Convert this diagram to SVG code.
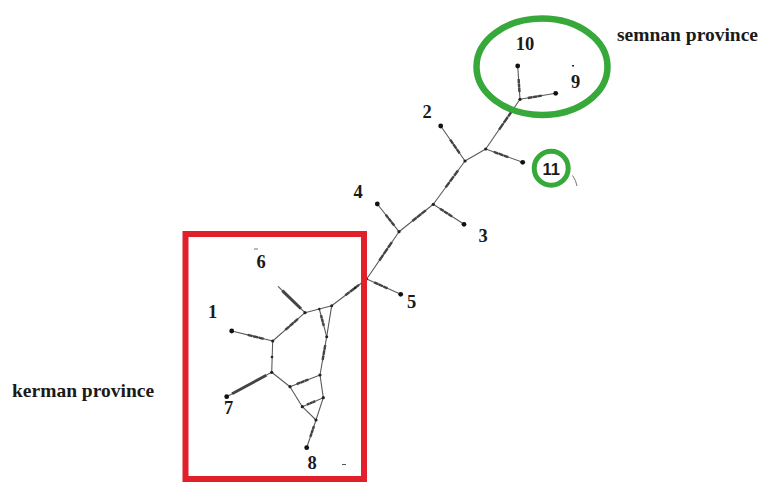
<svg xmlns="http://www.w3.org/2000/svg" width="764" height="483" viewBox="0 0 764 483">
<style>
.e{stroke:#5a5a5a;stroke-width:1.1;fill:none;stroke-linecap:round}
.h{stroke:#444;stroke-width:2.4;fill:none;stroke-dasharray:0 22 12 1.5 12 1.5 12 39.5}
.tip{fill:#111}
.jn{fill:#222}
.lb{font-family:"Liberation Serif","Times New Roman",serif;font-weight:bold;font-size:18.5px;fill:#1a1a1a;text-anchor:middle}
.prov{font-family:"Liberation Serif","Times New Roman",serif;font-weight:bold;font-size:19.5px;fill:#1a1a1a}
.grn{fill:none;stroke:#37a83a}
</style>
<rect width="764" height="483" fill="#fff"/>
<g id="connectors">
<line class="e" x1="520" y1="99.3" x2="517.7" y2="66"/><line class="h" pathLength="100" x1="520" y1="99.3" x2="517.7" y2="66"/>
<line class="e" x1="520" y1="99.3" x2="555.7" y2="93.3"/><line class="h" pathLength="100" x1="520" y1="99.3" x2="555.7" y2="93.3"/>
<line class="e" x1="520" y1="99.3" x2="485.7" y2="149"/><line class="h" pathLength="100" x1="520" y1="99.3" x2="485.7" y2="149"/>
<line class="e" x1="485.7" y1="149" x2="522.7" y2="162.3"/><line class="h" pathLength="100" x1="485.7" y1="149" x2="522.7" y2="162.3"/>
<line class="e" x1="485.7" y1="149" x2="465" y2="161"/>
<line class="e" x1="465" y1="161" x2="440.7" y2="126"/><line class="h" pathLength="100" x1="465" y1="161" x2="440.7" y2="126"/>
<line class="e" x1="465" y1="161" x2="433.3" y2="204.3"/><line class="h" pathLength="100" x1="465" y1="161" x2="433.3" y2="204.3"/>
<line class="e" x1="433.3" y1="204.3" x2="464" y2="224.3"/><line class="h" pathLength="100" x1="433.3" y1="204.3" x2="464" y2="224.3"/>
<line class="e" x1="433.3" y1="204.3" x2="399" y2="231.7"/><line class="h" pathLength="100" x1="433.3" y1="204.3" x2="399" y2="231.7"/>
<line class="e" x1="399" y1="231.7" x2="377.3" y2="204"/><line class="h" pathLength="100" x1="399" y1="231.7" x2="377.3" y2="204"/>
<line class="e" x1="399" y1="231.7" x2="366.7" y2="279"/><line class="h" pathLength="100" x1="399" y1="231.7" x2="366.7" y2="279"/>
<line class="e" x1="366.7" y1="279" x2="400.7" y2="294.3"/><line class="h" pathLength="100" x1="366.7" y1="279" x2="400.7" y2="294.3"/>
<line class="e" x1="366.7" y1="279" x2="331.7" y2="305.7"/><line class="h" pathLength="100" x1="366.7" y1="279" x2="331.7" y2="305.7"/>
<line class="e" x1="331.7" y1="305.7" x2="319.3" y2="309"/>
<line class="e" x1="319.3" y1="309" x2="305" y2="312.7"/>
<line class="e" x1="305" y1="312.7" x2="278.3" y2="286.7"/><line class="h" pathLength="100" x1="305" y1="312.7" x2="278.3" y2="286.7" style="stroke-dasharray:0 15 70 15;stroke-width:3"/>
<line class="e" x1="305" y1="312.7" x2="272.7" y2="341"/><line class="h" pathLength="100" x1="305" y1="312.7" x2="272.7" y2="341"/>
<line class="e" x1="272.7" y1="341" x2="231.7" y2="331"/><line class="h" pathLength="100" x1="272.7" y1="341" x2="231.7" y2="331"/>
<line class="e" x1="272.7" y1="341" x2="271.7" y2="372.3"/>
<line class="e" x1="271.7" y1="372.3" x2="226.7" y2="396.7"/><line class="h" pathLength="100" x1="271.7" y1="372.3" x2="226.7" y2="396.7" style="stroke-dasharray:0 12 76 12;stroke-width:2.8"/>
<line class="e" x1="271.7" y1="372.3" x2="290" y2="386.7"/>
<line class="e" x1="319.3" y1="309" x2="326.7" y2="336.7"/><line class="h" pathLength="100" x1="319.3" y1="309" x2="326.7" y2="336.7"/>
<line class="e" x1="331.7" y1="305.7" x2="326.7" y2="336.7"/>
<line class="e" x1="326.7" y1="336.7" x2="320" y2="375"/><line class="h" pathLength="100" x1="326.7" y1="336.7" x2="320" y2="375"/>
<line class="e" x1="290" y1="386.7" x2="320" y2="375"/><line class="h" pathLength="100" x1="290" y1="386.7" x2="320" y2="375"/>
<line class="e" x1="320" y1="375" x2="323.3" y2="397.7"/>
<line class="e" x1="290" y1="386.7" x2="302.3" y2="406.7"/>
<line class="e" x1="302.3" y1="406.7" x2="323.3" y2="397.7"/><line class="h" pathLength="100" x1="302.3" y1="406.7" x2="323.3" y2="397.7"/>
<line class="e" x1="323.3" y1="397.7" x2="316" y2="420"/>
<line class="e" x1="302.3" y1="406.7" x2="316" y2="420"/>
<line class="e" x1="316" y1="420" x2="306.7" y2="447.7"/><line class="h" pathLength="100" x1="316" y1="420" x2="306.7" y2="447.7"/>
</g>
<g id="junctions" class="jn">
<circle cx="520" cy="99.3" r="1.6"/><circle cx="485.7" cy="149" r="1.6"/><circle cx="465" cy="161" r="1.6"/>
<circle cx="433.3" cy="204.3" r="1.6"/><circle cx="399" cy="231.7" r="1.6"/><circle cx="366.7" cy="279" r="1.2"/>
<circle cx="331.7" cy="305.7" r="1.5"/><circle cx="319.3" cy="309" r="1.2"/><circle cx="305" cy="312.7" r="1.6"/>
<circle cx="326.7" cy="336.7" r="1.5"/><circle cx="272.7" cy="341" r="1.6"/><circle cx="272" cy="357" r="1.3"/>
<circle cx="271.7" cy="372.3" r="1.6"/><circle cx="290" cy="386.7" r="1.6"/><circle cx="320" cy="375" r="1.6"/>
<circle cx="323.3" cy="397.7" r="1.6"/><circle cx="302.3" cy="406.7" r="1.6"/><circle cx="316" cy="420" r="1.6"/>
<circle cx="355" cy="288" r="1.3"/>
</g>
<g id="n10"><circle class="tip" cx="517.7" cy="66" r="2.4"/><text class="lb" x="525" y="50">10</text></g>
<g id="n9"><circle class="tip" cx="555.7" cy="93.3" r="2.4"/><text class="lb" x="575.5" y="87.5">9</text><rect x="572" y="65" width="2" height="1.5" fill="#222"/></g>
<g id="n2"><circle class="tip" cx="440.7" cy="126" r="2.4"/><text class="lb" x="427" y="117.5">2</text></g>
<g id="n11"><circle class="tip" cx="522.7" cy="162.3" r="2.4"/>
<circle class="grn" cx="551.2" cy="168.2" r="17" stroke-width="5"/>
<path d="M572.5 175.5 Q576 180 577 186" fill="none" stroke="#777" stroke-width="1"/>
<text x="551.2" y="174.8" text-anchor="middle" font-family="'Liberation Sans',Arial,sans-serif" font-weight="bold" font-size="16.5" fill="#1a1a1a">11</text></g>
<g id="n4"><circle class="tip" cx="377.3" cy="204" r="2.4"/><text class="lb" x="358" y="197.5">4</text></g>
<g id="n3"><circle class="tip" cx="464" cy="224.3" r="2.4"/><text class="lb" x="483" y="241.5">3</text></g>
<g id="n5"><circle class="tip" cx="400.7" cy="294.3" r="2.4"/><text class="lb" x="411.5" y="307.5">5</text></g>
<g id="n6"><text class="lb" x="261" y="267.5">6</text><line x1="254" y1="249" x2="258" y2="249" stroke="#3a8a7a" stroke-width="1"/></g>
<g id="n1"><circle class="tip" cx="231.7" cy="331" r="2.4"/><text class="lb" x="212.5" y="317.5">1</text></g>
<g id="n7"><circle class="tip" cx="226.7" cy="396.7" r="2.4"/><text class="lb" x="228.5" y="413.5">7</text></g>
<g id="n8"><circle class="tip" cx="306.7" cy="447.7" r="2.4"/><text class="lb" x="312" y="468.5">8</text><line x1="342" y1="464.5" x2="346" y2="464.5" stroke="#555" stroke-width="1"/></g>
<g id="semnan">
<ellipse class="grn" cx="542" cy="66.7" rx="65.5" ry="48.2" stroke-width="6.5"/>
<text class="prov" x="617" y="41">semnan province</text>
</g>
<g id="kerman">
<rect x="185.5" y="234" width="178.5" height="245" fill="none" stroke="#e2202b" stroke-width="6"/>
<text class="prov" x="12" y="397">kerman province</text>
</g>
</svg>
